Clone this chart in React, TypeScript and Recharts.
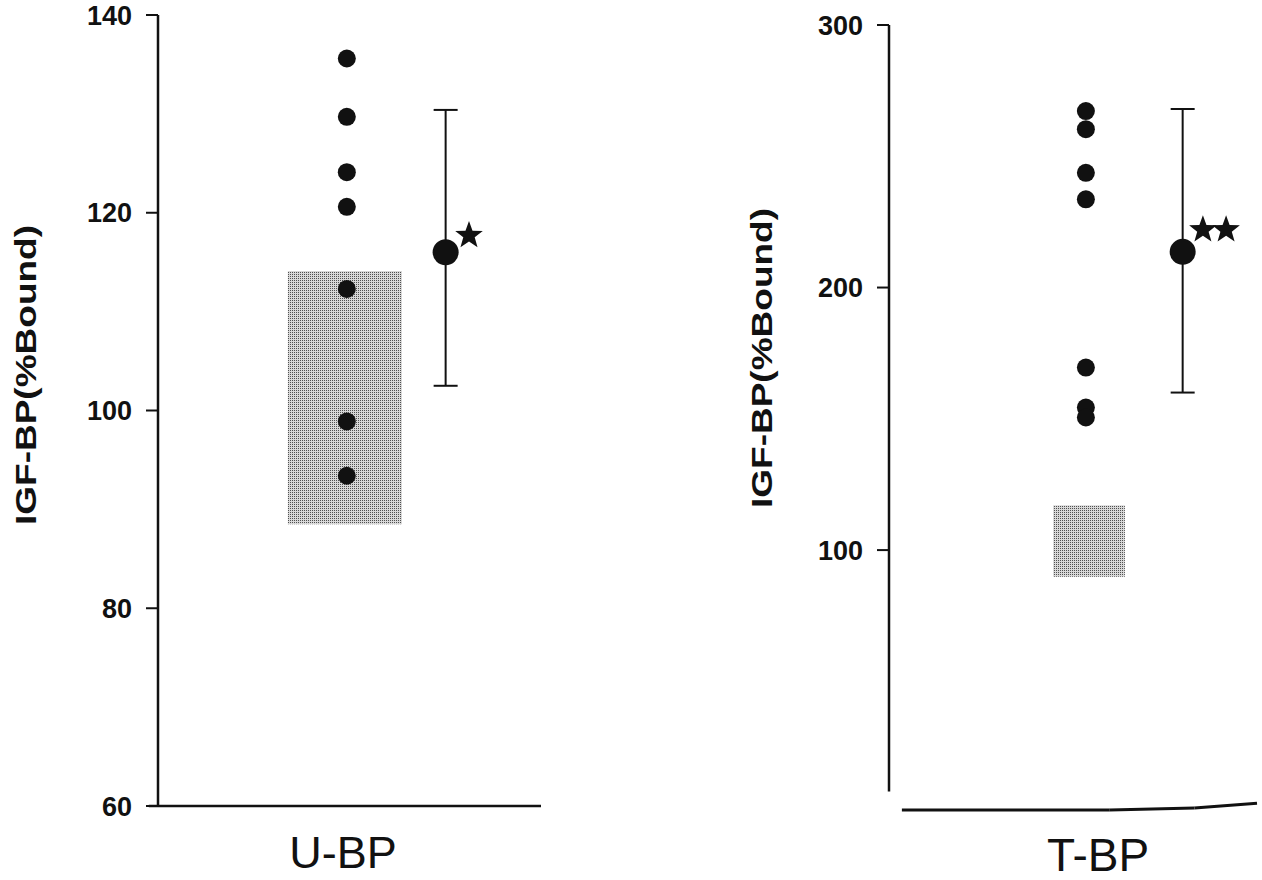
import React from "react"
import {
  ComposedChart,
  Scatter,
  XAxis,
  YAxis,
  ErrorBar,
  ReferenceArea,
  ReferenceLine,
} from "recharts"

// U-BP panel (left)
const uValues = [135.6, 129.7, 124.1, 120.6, 112.3, 98.9, 93.4]
const uMean = 116.0
const uErr = [13.5, 14.4]
const uNormal = [88.5, 114.1]
const uStar = 117.7
const uTicks = [60, 80, 100, 120, 140]

// T-BP panel (right)
const tValues = [267.2, 260.3, 243.7, 233.6, 169.5, 154.3, 150.5]
const tMean = 213.6
const tErr = [53.6, 54.4]
const tNormal = [89.8, 117.1]
const tStar = 222
const tTicks = [100, 200, 300]

// horizontal slots on a 0..10 axis
const uSlots = { points: 4.93, mean: 7.51, boxFrom: 3.39, boxTo: 6.37, stars: [8.12], label: 4.83 }
const tSlots = { points: 5.35, mean: 7.98, boxFrom: 4.46, boxTo: 6.41, stars: [8.53, 9.16], label: 5.68 }

const FONT = '"Liberation Sans", Arial, sans-serif'

const dot = (r: number) => (props: any) => (
  <circle cx={props.cx} cy={props.cy} r={r} fill="#111" />
)

const star = (props: any) => {
  const { cx, cy } = props
  const outer = 14.5
  const inner = 6
  let d = ""
  for (let i = 0; i < 10; i++) {
    const r = i % 2 === 0 ? outer : inner
    const a = -Math.PI / 2 + (i * Math.PI) / 5
    d += (i === 0 ? "M" : "L") + (cx + r * Math.cos(a)).toFixed(2) + "," + (cy + r * Math.sin(a)).toFixed(2)
  }
  return <path d={d + "Z"} fill="#111" />
}

const yLabel = (x: number, y: number) => () => (
  <text
    x={x}
    y={y}
    transform={`rotate(-90 ${x} ${y})`}
    textAnchor="middle"
    fontFamily={FONT}
    fontSize={30}
    fontWeight="bold"
    textLength={300}
    lengthAdjust="spacingAndGlyphs"
    fill="#111"
  >
    IGF-BP(%Bound)
  </text>
)

function Panel({
  values, mean, err, normal, starY, slots, ticks, domain, name, width, yWidth, margin, xHeight,
  labelX, labelY, labelSize, labelMargin, split,
}: any) {
  const points = values.map((v: number) => ({ x: slots.points, y: v }))
  const meanData = [{ x: slots.mean, y: mean, err }]
  const starData = slots.stars.map((s: number) => ({ x: s, y: starY }))

  return (
    <ComposedChart width={width} height={880} margin={margin}>
      <XAxis
        type="number"
        dataKey="x"
        domain={[0, 10]}
        ticks={[slots.label]}
        tickFormatter={() => name}
        axisLine={false}
        tickLine={false}
        tickSize={0}
        tickMargin={labelMargin}
        height={xHeight}
        tick={{ fontSize: labelSize, fill: "#111", fontFamily: FONT }}
      />
      <YAxis
        type="number"
        dataKey="y"
        domain={domain}
        ticks={ticks}
        width={yWidth}
        axisLine={split ? false : { stroke: "#111", strokeWidth: 2.5 }}
        tickLine={{ stroke: "#111", strokeWidth: 2 }}
        tickSize={12}
        tickMargin={14}
        tick={{ fontSize: 27, fill: "#111", fontWeight: "bold", fontFamily: FONT }}
        label={yLabel(labelX, labelY)}
      />
      <ReferenceArea
        x1={slots.boxFrom}
        x2={slots.boxTo}
        y1={normal[0]}
        y2={normal[1]}
        fill="url(#halftone)"
        fillOpacity={1}
        stroke="none"
      />
      {split ? (
        <>
          <ReferenceLine
            segment={[{ x: 0, y: 8 }, { x: 0, y: domain[1] }]}
            stroke="#111"
            strokeWidth={2.5}
            ifOverflow="visible"
          />
          <ReferenceLine
            segment={[{ x: 0.35, y: domain[0] }, { x: 6, y: domain[0] }]}
            stroke="#111"
            strokeWidth={3}
            ifOverflow="visible"
          />
          <ReferenceLine
            segment={[{ x: 6, y: domain[0] }, { x: 8.3, y: domain[0] + 0.8 }]}
            stroke="#111"
            strokeWidth={3}
            ifOverflow="visible"
          />
          <ReferenceLine
            segment={[{ x: 8.3, y: domain[0] + 0.8 }, { x: 10, y: domain[0] + 2.6 }]}
            stroke="#111"
            strokeWidth={3}
            ifOverflow="visible"
          />
        </>
      ) : (
        <ReferenceLine
          segment={[{ x: -0.24, y: domain[0] }, { x: 10, y: domain[0] }]}
          stroke="#111"
          strokeWidth={2.5}
          ifOverflow="visible"
        />
      )}
      <Scatter data={points} shape={dot(9)} isAnimationActive={false} />
      <Scatter data={meanData} shape={dot(13)} isAnimationActive={false}>
        <ErrorBar dataKey="err" direction="y" width={12} stroke="#111" strokeWidth={2} />
      </Scatter>
      <Scatter data={starData} shape={star} isAnimationActive={false} />
    </ComposedChart>
  )
}

export default function App() {
  return (
    <div style={{ position: "relative", width: 1262, height: 880, background: "#fff", overflow: "hidden" }}>
      <style>{`body{margin:0;background:#fff}`}</style>
      <svg width="0" height="0" style={{ position: "absolute" }}>
        <defs>
          <pattern id="halftone" width="2" height="2" patternUnits="userSpaceOnUse">
            <rect width="2" height="2" fill="#d8d8d8" />
            <rect width="1" height="1" fill="#505050" />
          </pattern>
        </defs>
      </svg>
      <div style={{ position: "absolute", left: 0, top: 0 }}>
        <Panel
          values={uValues}
          mean={uMean}
          err={uErr}
          normal={uNormal}
          starY={uStar}
          slots={uSlots}
          ticks={uTicks}
          domain={[60, 140]}
          name="U-BP"
          width={560}
          yWidth={158}
          margin={{ top: 15, right: 19, bottom: 0, left: 0 }}
          xHeight={74}
          labelX={36}
          labelY={375}
          labelSize={45}
          labelMargin={30}
          split={false}
        />
      </div>
      <div style={{ position: "absolute", left: 700, top: 0 }}>
        <Panel
          values={tValues}
          mean={tMean}
          err={tErr}
          normal={tNormal}
          starY={tStar}
          slots={tSlots}
          ticks={tTicks}
          domain={[1, 300]}
          name="T-BP"
          width={562}
          yWidth={189}
          margin={{ top: 25, right: 5, bottom: 0, left: 0 }}
          xHeight={70}
          labelX={72}
          labelY={358}
          labelSize={46}
          labelMargin={28}
          split={true}
        />
      </div>
    </div>
  )
}
